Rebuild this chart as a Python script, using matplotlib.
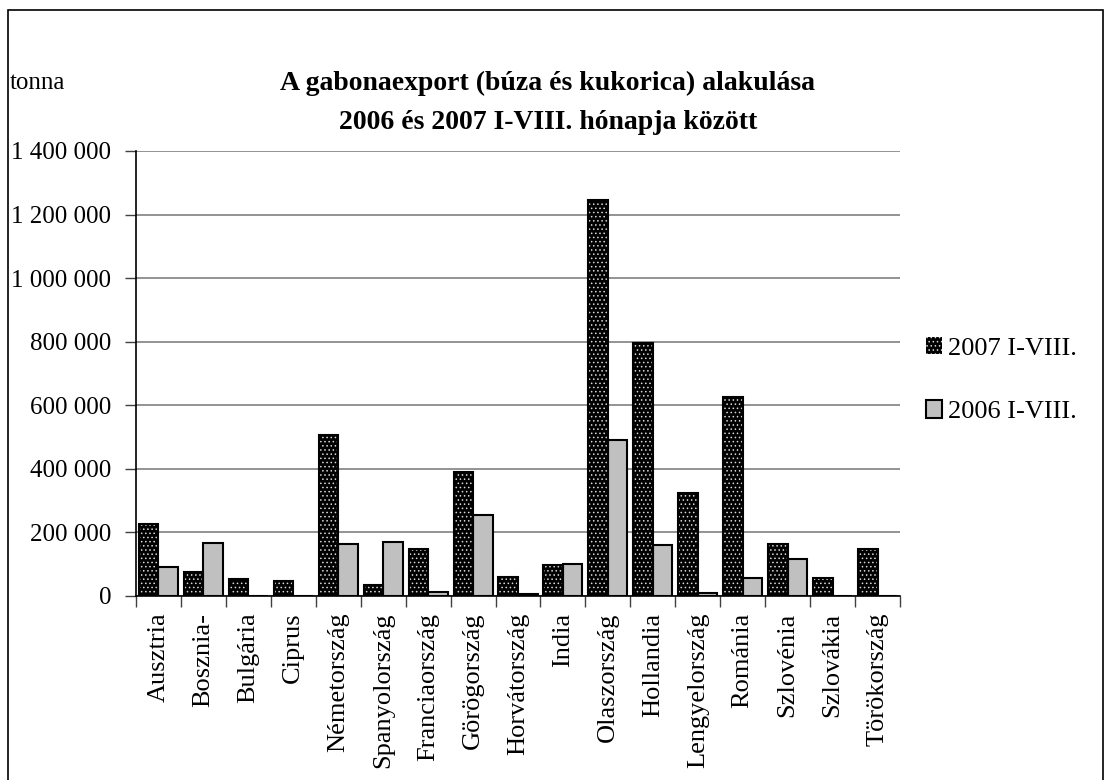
import numpy as np
import matplotlib
matplotlib.use('Agg')
import matplotlib.pyplot as plt
from matplotlib.patches import Patch, Rectangle
from matplotlib.ticker import FuncFormatter

plt.rcParams['font.family'] = ['Liberation Serif', 'DejaVu Serif']
plt.rcParams['hatch.linewidth'] = 0.6

countries = ['Ausztria', 'Bosznia-', 'Bulgária', 'Ciprus', 'Németország',
             'Spanyolország', 'Franciaország', 'Görögország', 'Horvátország',
             'India', 'Olaszország', 'Hollandia', 'Lengyelország', 'Románia',
             'Szlovénia', 'Szlovákia', 'Törökország']
export_2007 = [228000, 76000, 53000, 47000, 505000, 35000, 147000, 390000, 61000,
               97000, 1245000, 797000, 325000, 625000, 163000, 56000, 148000]
export_2006 = [91000, 167000, 0, 0, 163000, 169000, 13000, 255000, 6000,
               102000, 490000, 160000, 8000, 56000, 116000, 0, 0]
series_names = ['2007 I-VIII.', '2006 I-VIII.']

W, H = 1105, 780
fig = plt.figure(figsize=(W / 100, H / 100), dpi=100)
fig.patches.append(Rectangle((8 / W, -0.05), (1103 - 8) / W, 1.05 - 10 / H,
                             transform=fig.transFigure, fill=False,
                             edgecolor='black', linewidth=1.2))

ax = fig.add_axes([136 / W, 1 - 596 / H, (900 - 136) / W, (596 - 151) / H])

x = np.arange(len(countries))
w = 0.435
# dotted dark bars: hatch first, then black outline
ax.bar(x - w / 2, export_2007, w, color='black', edgecolor='#d8d8d8',
       hatch='....', linewidth=0, zorder=3)
ax.bar(x - w / 2, export_2007, w, facecolor='none', edgecolor='black',
       linewidth=1.5, zorder=4)
ax.bar(x + w / 2, export_2006, w, color='#c0c0c0', edgecolor='black',
       linewidth=1.5, zorder=3)

ax.set_xlim(-0.5, len(countries) - 0.5)
ax.set_ylim(0, 1400000)
ax.set_yticks(np.arange(0, 1400001, 200000))
ax.yaxis.set_major_formatter(FuncFormatter(lambda v, p: f'{int(v):,}'.replace(',', ' ')))
ax.yaxis.grid(True, color='#808080', linewidth=1.2, zorder=0)
ax.set_axisbelow(True)

ax.set_xticks(np.arange(-0.5, len(countries), 1.0))
ax.set_xticklabels([])
ax.set_xticks(x, minor=True)
ax.set_xticklabels(countries, minor=True, rotation=90, va='top', ha='center')
ax.tick_params(axis='x', which='major', length=8, width=1, color='#404040', direction='out')
ax.tick_params(axis='x', which='minor', length=0, pad=12, labelsize=19)
ax.tick_params(axis='y', length=8, width=1, color='#404040', direction='out', pad=10, labelsize=18)

for s in ['top', 'right']:
    ax.spines[s].set_visible(False)
ax.spines['left'].set_linewidth(1.2)
ax.spines['bottom'].set_linewidth(1.2)

handles = [Patch(facecolor='black', edgecolor='#d8d8d8', hatch='....', linewidth=0),
           Patch(facecolor='#c0c0c0', edgecolor='black', linewidth=1.5)]
fig.legend(handles, series_names, loc='center left', bbox_to_anchor=(926 / W, 1 - 380 / H),
           frameon=False, fontsize=19, handlelength=0.62, handleheight=0.62,
           handletextpad=0.2, labelspacing=1.55, borderpad=0, borderaxespad=0)

fig.text(10 / W, 1 - 83 / H, 'tonna', fontsize=18, va='center', ha='left')
fig.text(548 / W, 1 - 103 / H, 'A gabonaexport (búza és kukorica) alakulása\n2006 és 2007 I-VIII. hónapja között',
         fontsize=20, fontweight='bold', ha='center', va='center', linespacing=1.75)

fig.savefig('out.png', dpi=100)
